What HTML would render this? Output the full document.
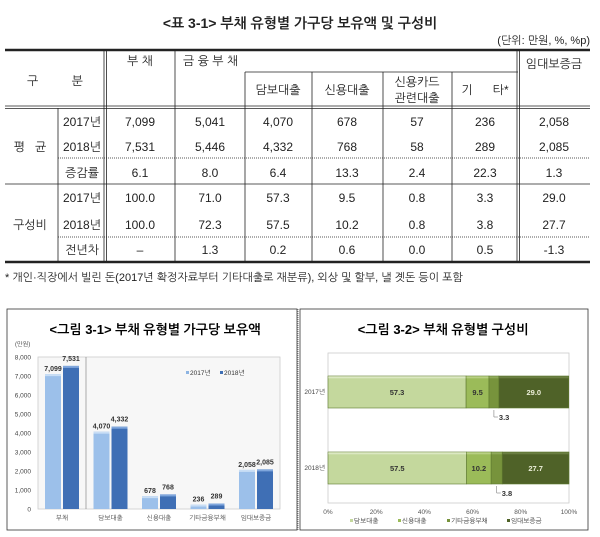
<!DOCTYPE html>
<html><head><meta charset="utf-8"><style>
body{margin:0;background:#fff;}
svg{display:block;font-family:"Liberation Sans","NanumGothic","Noto Sans CJK KR",sans-serif;}
</style></head><body>
<svg width="600" height="537" viewBox="0 0 600 537">
<g font-size="12" fill="#222">
<text x="300" y="28" text-anchor="middle" font-weight="bold" font-size="14">&lt;표 3-1&gt; 부채 유형별 가구당 보유액 및 구성비</text>
<text x="590" y="44" text-anchor="end" font-size="11">(단위: 만원, %, %p)</text>
<g stroke="#222" fill="none">
<line x1="5" y1="50" x2="590" y2="50" stroke-width="2.5"/>
<line x1="245" y1="72" x2="518" y2="72" stroke-width="0.8"/>
<line x1="5" y1="106" x2="590" y2="106" stroke-width="0.8"/>
<line x1="5" y1="108.5" x2="590" y2="108.5" stroke-width="0.8"/>
<line x1="58" y1="158" x2="590" y2="158" stroke-width="0.8" stroke-dasharray="1,1"/>
<line x1="5" y1="184" x2="590" y2="184" stroke-width="0.8"/>
<line x1="58" y1="237" x2="590" y2="237" stroke-width="0.8" stroke-dasharray="1,1"/>
<line x1="5" y1="262" x2="590" y2="262" stroke-width="2.5"/>
<line x1="58" y1="108" x2="58" y2="262" stroke-width="0.8"/>
<line x1="104" y1="50" x2="104" y2="262" stroke-width="0.8"/>
<line x1="106.5" y1="50" x2="106.5" y2="262" stroke-width="0.8"/>
<line x1="175" y1="50" x2="175" y2="262" stroke-width="0.8"/>
<line x1="245" y1="72" x2="245" y2="262" stroke-width="0.8"/>
<line x1="312" y1="72" x2="312" y2="262" stroke-width="0.8"/>
<line x1="383" y1="72" x2="383" y2="262" stroke-width="0.8"/>
<line x1="452" y1="72" x2="452" y2="262" stroke-width="0.8"/>
<line x1="517" y1="50" x2="517" y2="262" stroke-width="0.8"/>
<line x1="519.5" y1="50" x2="519.5" y2="262" stroke-width="0.8"/>
</g>
<text x="55" y="85" text-anchor="middle" xml:space="preserve">구          분</text>
<text x="140" y="65" text-anchor="middle">부 채</text>
<text x="183" y="65">금 융 부 채</text>
<text x="554" y="68" text-anchor="middle">임대보증금</text>
<text x="278" y="94" text-anchor="middle">담보대출</text>
<text x="347" y="94" text-anchor="middle">신용대출</text>
<text x="417" y="86" text-anchor="middle">신용카드</text>
<text x="417" y="102" text-anchor="middle">관련대출</text>
<text x="485" y="94" text-anchor="middle" xml:space="preserve">기      타*</text>
<text x="30" y="151" text-anchor="middle" xml:space="preserve">평   균</text>
<text x="30" y="229" text-anchor="middle">구성비</text>
<g id="rows"></g>
<text x="5" y="281" font-size="11">* 개인·직장에서 빌린 돈(2017년 확정자료부터 기타대출로 재분류), 외상 및 할부, 낼 곗돈 등이 포함</text>
</g>

<line x1="298" y1="309" x2="298" y2="531" stroke="#555" stroke-width="0.8" stroke-dasharray="1,1"/>
<g>
<rect x="7" y="309" width="290" height="221" fill="#fff" stroke="#333" stroke-width="0.8"/>
<text x="155" y="334" text-anchor="middle" font-weight="bold" font-size="13">&lt;그림 3-1&gt; 부채 유형별 가구당 보유액</text>
<text x="15" y="346" font-size="6" fill="#444">(만원)</text>
<rect x="38" y="357" width="242" height="152" fill="#f7f7f7" stroke="#ccc" stroke-width="0.8"/>
<line x1="86" y1="357" x2="86" y2="509" stroke="#777" stroke-width="0.6"/>
<g id="barg"></g>
<rect x="186" y="371" width="3" height="3" fill="#8db4e2"/><text x="190" y="375" font-size="6.5" fill="#333">2017년</text>
<rect x="220" y="371" width="3" height="3" fill="#3f6fb5"/><text x="224" y="375" font-size="6.5" fill="#333">2018년</text>
</g>

<g>
<rect x="300" y="309" width="288" height="221" fill="#fff" stroke="#333" stroke-width="0.8"/>
<text x="443" y="334" text-anchor="middle" font-weight="bold" font-size="13">&lt;그림 3-2&gt; 부채 유형별 구성비</text>
<rect x="328" y="353" width="241" height="150" fill="#fff" stroke="#ccc" stroke-width="0.8"/>
<g id="stackg"></g>
</g>
</svg>
<script>
const NS='http://www.w3.org/2000/svg';
function mk(tag,attrs,parent,txt){const e=document.createElementNS(NS,tag);for(const k in attrs)e.setAttribute(k,attrs[k]);if(txt!==undefined)e.textContent=txt;parent.appendChild(e);return e;}

// ---- table data ----
const rowLabels=['2017년','2018년','증감률','2017년','2018년','전년차'];
const rowY=[126,151,177,202,229,254];
const colX=[140,210,278,347,417,485,554];
const tableValues=[
 ['7,099','5,041','4,070','678','57','236','2,058'],
 ['7,531','5,446','4,332','768','58','289','2,085'],
 ['6.1','8.0','6.4','13.3','2.4','22.3','1.3'],
 ['100.0','71.0','57.3','9.5','0.8','3.3','29.0'],
 ['100.0','72.3','57.5','10.2','0.8','3.8','27.7'],
 ['–','1.3','0.2','0.6','0.0','0.5','-1.3']];
const rows=document.getElementById('rows');
rowLabels.forEach((l,i)=>{
 const t=mk('text',{x:82,y:rowY[i],'text-anchor':'middle'},rows,l);
 
 
 tableValues[i].forEach((v,j)=>{
  const c=mk('text',{x:colX[j],y:rowY[i],'text-anchor':'middle'},rows,v);
  
  
 });
});

// ---- bar chart data ----
const barCategories=['부채','담보대출','신용대출','기타금융부채','임대보증금'];
const values2017=[7099,4070,678,236,2058];
const values2018=[7531,4332,768,289,2085];
const yTicks=[0,1000,2000,3000,4000,5000,6000,7000,8000];
const bg=document.getElementById('barg');
const yS=v=>509-v/8000*152;
const xC=i=>62+i*48.5;
const fmt=v=>v.toLocaleString('en-US');
yTicks.forEach(t=>{
 const e=mk('text',{x:31,y:yS(t)+2.5,'text-anchor':'end','font-size':6.5,fill:'#444'},bg,fmt(t));
 
 
});
barCategories.forEach((c,i)=>{
 const e=mk('text',{x:xC(i),y:520,'text-anchor':'middle','font-size':6.5,fill:'#444'},bg,c);
 
 
 [[values2017,'#9cc0ea','#c9def5',-17],[values2018,'#3f6fb5','#7fa6dc',1]].forEach(([arr,col,hi,off],s)=>{
  const v=arr[i],y=yS(v);
  const b=mk('rect',{x:xC(i)+off,y:y,width:16,height:509-y,fill:col},bg);
  
  
  mk('rect',{x:xC(i)+off,y:y,width:16,height:2,fill:hi},bg);
  const l=mk('text',{x:xC(i)+off+8,y:y-(s?5:3),'text-anchor':'middle','font-size':7,'font-weight':'bold',fill:'#333'},bg,fmt(v));
  
  
 });
});

// ---- stacked chart data ----
const years=['2017년','2018년'];
const mortgageShare=[57.3,57.5];
const creditShare=[9.5,10.2];
const otherShare=[4.1,4.6];
const depositShare=[29.0,27.7];
const otherLabels=['3.3','3.8'];
const pctTicks=[0,20,40,60,80,100];
const sg=document.getElementById('stackg');
const xP=p=>328+p/100*241;
const barTop=[376,452];
pctTicks.forEach(t=>{
 const e=mk('text',{x:xP(t),y:514,'text-anchor':'middle','font-size':6.5,fill:'#555'},sg,t+'%');
 
 
});
const series=[[mortgageShare,'#c4d89d','#dbe8c2','mortgage'],[creditShare,'#9bbb59','#b8d083','credit'],[otherShare,'#77933c','#8fa95a','other'],[depositShare,'#4f6228','#6a7e42','deposit']];
years.forEach((yr,i)=>{
 const e=mk('text',{x:325,y:barTop[i]+18,'text-anchor':'end','font-size':6.5,fill:'#444'},sg,yr);
 
 
 let acc=0;
 series.forEach(([arr,col,hi,nm],s)=>{
  const v=arr[i],x0=xP(acc),x1=xP(acc+v);
  const r=mk('rect',{x:x0,y:barTop[i],width:x1-x0,height:32,fill:col,stroke:'#5e7a2e','stroke-width':0.6},sg);
  
  
  mk('rect',{x:x0+0.3,y:barTop[i]+0.3,width:x1-x0-0.6,height:2,fill:hi},sg);
  if(s!==2){
   const l=mk('text',{x:(x0+x1)/2,y:barTop[i]+19,'text-anchor':'middle','font-size':7.5,'font-weight':'bold',fill:s===3?'#ecefd9':'#333'},sg,v.toFixed(1));
   
   
  } else {
   const cx=(x0+x1)/2;
   mk('polyline',{points:`${cx},${barTop[i]+34} ${cx},${barTop[i]+41} ${cx+4},${barTop[i]+41}`,fill:'none',stroke:'#666','stroke-width':0.5},sg);
   const l=mk('text',{x:cx+5,y:barTop[i]+44,'font-size':7.5,'font-weight':'bold',fill:'#333'},sg,otherLabels[i]);
   
   
  }
  acc+=v;
 });
});
const legNames=['담보대출','신용대출','기타금융부채','임대보증금'];
const legX=[350,398,447,507];
legNames.forEach((n,i)=>{
 mk('rect',{x:legX[i],y:519,width:3,height:3,fill:series[i][1]},sg);
 const e=mk('text',{x:legX[i]+4,y:523,'font-size':6.5,fill:'#333'},sg,n);
 
 
});
</script>
</body></html>
